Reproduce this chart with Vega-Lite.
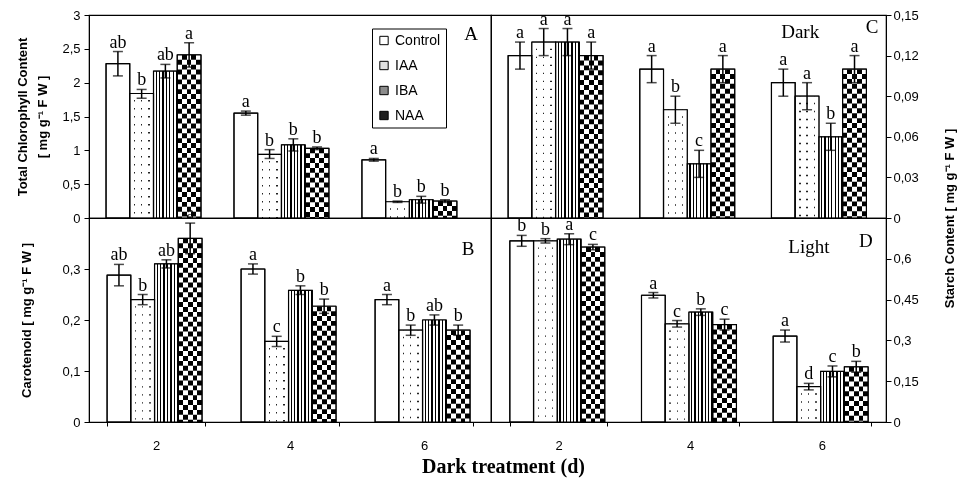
{
  "$schema": "https://vega.github.io/schema/vega-lite/v6.json",
  "padding": {"left": 15, "top": 8, "right": 0, "bottom": 0},
  "background": "white",
  "datasets": {
    "A": [
      {"day": "2", "trt": "Control", "v": 2.28, "lo": 2.10, "hi": 2.46, "lab": "ab"},
      {"day": "2", "trt": "IAA", "v": 1.84, "lo": 1.77, "hi": 1.90, "lab": "b"},
      {"day": "2", "trt": "IBA", "v": 2.17, "lo": 2.07, "hi": 2.27, "lab": "ab"},
      {"day": "2", "trt": "NAA", "v": 2.41, "lo": 2.23, "hi": 2.59, "lab": "a"},
      {"day": "4", "trt": "Control", "v": 1.55, "lo": 1.52, "hi": 1.58, "lab": "a"},
      {"day": "4", "trt": "IAA", "v": 0.94, "lo": 0.88, "hi": 1.01, "lab": "b"},
      {"day": "4", "trt": "IBA", "v": 1.08, "lo": 0.99, "hi": 1.17, "lab": "b"},
      {"day": "4", "trt": "NAA", "v": 1.03, "lo": 1.01, "hi": 1.05, "lab": "b"},
      {"day": "6", "trt": "Control", "v": 0.86, "lo": 0.84, "hi": 0.88, "lab": "a"},
      {"day": "6", "trt": "IAA", "v": 0.24, "lo": 0.23, "hi": 0.25, "lab": "b"},
      {"day": "6", "trt": "IBA", "v": 0.27, "lo": 0.22, "hi": 0.32, "lab": "b"},
      {"day": "6", "trt": "NAA", "v": 0.25, "lo": 0.23, "hi": 0.27, "lab": "b"}
    ],
    "B": [
      {"day": "2", "trt": "Control", "v": 0.288, "lo": 0.267, "hi": 0.309, "lab": "ab"},
      {"day": "2", "trt": "IAA", "v": 0.24, "lo": 0.23, "hi": 0.25, "lab": "b"},
      {"day": "2", "trt": "IBA", "v": 0.31, "lo": 0.302, "hi": 0.318, "lab": "ab"},
      {"day": "2", "trt": "NAA", "v": 0.36, "lo": 0.33, "hi": 0.39, "lab": "a"},
      {"day": "4", "trt": "Control", "v": 0.30, "lo": 0.29, "hi": 0.31, "lab": "a"},
      {"day": "4", "trt": "IAA", "v": 0.158, "lo": 0.148, "hi": 0.168, "lab": "c"},
      {"day": "4", "trt": "IBA", "v": 0.258, "lo": 0.25, "hi": 0.267, "lab": "b"},
      {"day": "4", "trt": "NAA", "v": 0.227, "lo": 0.213, "hi": 0.241, "lab": "b"},
      {"day": "6", "trt": "Control", "v": 0.24, "lo": 0.23, "hi": 0.25, "lab": "a"},
      {"day": "6", "trt": "IAA", "v": 0.18, "lo": 0.17, "hi": 0.19, "lab": "b"},
      {"day": "6", "trt": "IBA", "v": 0.20, "lo": 0.19, "hi": 0.21, "lab": "ab"},
      {"day": "6", "trt": "NAA", "v": 0.18, "lo": 0.17, "hi": 0.19, "lab": "b"}
    ],
    "C": [
      {"day": "2", "trt": "Control", "v": 0.12, "lo": 0.11, "hi": 0.13, "lab": "a"},
      {"day": "2", "trt": "IAA", "v": 0.13, "lo": 0.12, "hi": 0.14, "lab": "a"},
      {"day": "2", "trt": "IBA", "v": 0.13, "lo": 0.12, "hi": 0.14, "lab": "a"},
      {"day": "2", "trt": "NAA", "v": 0.12, "lo": 0.11, "hi": 0.13, "lab": "a"},
      {"day": "4", "trt": "Control", "v": 0.11, "lo": 0.10, "hi": 0.12, "lab": "a"},
      {"day": "4", "trt": "IAA", "v": 0.08, "lo": 0.07, "hi": 0.09, "lab": "b"},
      {"day": "4", "trt": "IBA", "v": 0.04, "lo": 0.03, "hi": 0.05, "lab": "c"},
      {"day": "4", "trt": "NAA", "v": 0.11, "lo": 0.10, "hi": 0.12, "lab": "a"},
      {"day": "6", "trt": "Control", "v": 0.10, "lo": 0.09, "hi": 0.11, "lab": "a"},
      {"day": "6", "trt": "IAA", "v": 0.09, "lo": 0.08, "hi": 0.10, "lab": "a"},
      {"day": "6", "trt": "IBA", "v": 0.06, "lo": 0.05, "hi": 0.07, "lab": "b"},
      {"day": "6", "trt": "NAA", "v": 0.11, "lo": 0.10, "hi": 0.12, "lab": "a"}
    ],
    "D": [
      {"day": "2", "trt": "Control", "v": 0.666, "lo": 0.646, "hi": 0.686, "lab": "b"},
      {"day": "2", "trt": "IAA", "v": 0.666, "lo": 0.658, "hi": 0.674, "lab": "b"},
      {"day": "2", "trt": "IBA", "v": 0.672, "lo": 0.652, "hi": 0.692, "lab": "a"},
      {"day": "2", "trt": "NAA", "v": 0.643, "lo": 0.633, "hi": 0.653, "lab": "c"},
      {"day": "4", "trt": "Control", "v": 0.466, "lo": 0.456, "hi": 0.476, "lab": "a"},
      {"day": "4", "trt": "IAA", "v": 0.361, "lo": 0.349, "hi": 0.373, "lab": "c"},
      {"day": "4", "trt": "IBA", "v": 0.404, "lo": 0.392, "hi": 0.416, "lab": "b"},
      {"day": "4", "trt": "NAA", "v": 0.358, "lo": 0.338, "hi": 0.378, "lab": "c"},
      {"day": "6", "trt": "Control", "v": 0.316, "lo": 0.294, "hi": 0.338, "lab": "a"},
      {"day": "6", "trt": "IAA", "v": 0.13, "lo": 0.118, "hi": 0.142, "lab": "d"},
      {"day": "6", "trt": "IBA", "v": 0.186, "lo": 0.166, "hi": 0.206, "lab": "c"},
      {"day": "6", "trt": "NAA", "v": 0.203, "lo": 0.183, "hi": 0.223, "lab": "b"}
    ]
  },
  "config": {
    "view": {"stroke": "black", "strokeWidth": 1.2},
    "axis": {"labelFont": "Liberation Sans", "labelFontSize": 13, "labelColor": "black", "tickColor": "black", "tickSize": 5, "domainColor": "black", "grid": false, "titleFont": "Liberation Sans", "titleFontSize": 13, "titleFontWeight": "bold", "titleColor": "black", "labelPadding": 4, "labelOverlap": false}
  },
  "concat": [
    {
      "width": 402, "height": 203,
      "data": {"name": "A"},
      "encoding": {"x": {"field": "day", "type": "nominal", "axis": null, "scale": {"paddingInner": 0.258, "paddingOuter": 0.2, "align": 0.333}}},
      "layer": [
        {"mark": {"type": "bar", "stroke": "black", "strokeWidth": 1},
         "encoding": {
           "xOffset": {"field": "trt", "type": "nominal", "scale": {"domain": ["Control", "IAA", "IBA", "NAA"], "paddingInner": 0, "paddingOuter": 0}},
           "y": {"field": "v", "type": "quantitative", "scale": {"domain": [0, 3], "nice": false},
                 "axis": {"values": [0, 0.5, 1, 1.5, 2, 2.5, 3], "tickCount": 20, "labelOverlap": false, "labelExpr": "replace(format(datum.value, '~g'), '.', ',')", "title": ["Total Chlorophyll Content", "[ mg g⁻¹ F W ]"], "titleX": -67, "titleBaseline": "middle", "titleLineHeight": 20}},
           "fill": {"field": "trt", "type": "nominal", "scale": {"domain": ["Control", "IAA", "IBA", "NAA"], "range": ["#ffffff", "#e2e2e2", "#8c8c8c", "#1e1e1e"]},
                    "legend": {"orient": "none", "legendX": 283, "legendY": 13.5, "title": null, "strokeColor": "black", "fillColor": "white", "padding": 5, "symbolType": "square", "symbolSize": 70, "symbolStrokeColor": "black", "symbolStrokeWidth": 1, "labelFont": "Liberation Sans", "labelFontSize": 14, "labelColor": "black", "rowPadding": 11, "labelOffset": 4}}
         }},
        {"transform": [{"filter": "datum.trt === 'IAA'"}],
         "mark": {"type": "bar", "fill": {"gradient": "linear", "x1": 0, "y1": 0, "x2": 1, "y2": 0, "stops": [{"offset": 0, "color": "white"}, {"offset": 0.17, "color": "white"}, {"offset": 0.17, "color": "#222"}, {"offset": 0.225, "color": "#222"}, {"offset": 0.225, "color": "white"}, {"offset": 0.475, "color": "white"}, {"offset": 0.475, "color": "#222"}, {"offset": 0.53, "color": "#222"}, {"offset": 0.53, "color": "white"}, {"offset": 0.78, "color": "white"}, {"offset": 0.78, "color": "#222"}, {"offset": 0.835, "color": "#222"}, {"offset": 0.835, "color": "white"}, {"offset": 1, "color": "white"}]}},
         "encoding": {"xOffset": {"field": "trt", "type": "nominal", "scale": {"domain": ["Control", "IAA", "IBA", "NAA"], "paddingInner": 0, "paddingOuter": 0}}, "y": {"field": "v", "type": "quantitative"}}},
        {"transform": [{"filter": "datum.trt === 'IAA'"}],
         "mark": {"type": "rule", "stroke": "white", "strokeWidth": 22, "strokeDash": [6.6, 1.4]},
         "encoding": {"xOffset": {"field": "trt", "type": "nominal", "scale": {"domain": ["Control", "IAA", "IBA", "NAA"], "paddingInner": 0, "paddingOuter": 0}}, "y": {"field": "v", "type": "quantitative"}, "y2": {"datum": 0}}},
        {"transform": [{"filter": "datum.trt === 'IBA'"}],
         "mark": {"type": "bar", "fill": {"gradient": "linear", "x1": 0, "y1": 0, "x2": 1, "y2": 0, "stops": [{"offset": 0, "color": "white"}, {"offset": 0.088, "color": "white"}, {"offset": 0.088, "color": "black"}, {"offset": 0.1429, "color": "black"}, {"offset": 0.1429, "color": "white"}, {"offset": 0.2309, "color": "white"}, {"offset": 0.2309, "color": "black"}, {"offset": 0.2857, "color": "black"}, {"offset": 0.2857, "color": "white"}, {"offset": 0.3737, "color": "white"}, {"offset": 0.3737, "color": "black"}, {"offset": 0.4286, "color": "black"}, {"offset": 0.4286, "color": "white"}, {"offset": 0.5166, "color": "white"}, {"offset": 0.5166, "color": "black"}, {"offset": 0.5714, "color": "black"}, {"offset": 0.5714, "color": "white"}, {"offset": 0.6594, "color": "white"}, {"offset": 0.6594, "color": "black"}, {"offset": 0.7143, "color": "black"}, {"offset": 0.7143, "color": "white"}, {"offset": 0.8023, "color": "white"}, {"offset": 0.8023, "color": "black"}, {"offset": 0.8571, "color": "black"}, {"offset": 0.8571, "color": "white"}, {"offset": 0.9451, "color": "white"}, {"offset": 0.9451, "color": "black"}, {"offset": 1, "color": "black"}]}},
         "encoding": {"xOffset": {"field": "trt", "type": "nominal", "scale": {"domain": ["Control", "IAA", "IBA", "NAA"], "paddingInner": 0, "paddingOuter": 0}}, "y": {"field": "v", "type": "quantitative"}}},
        {"transform": [{"filter": "datum.trt === 'NAA'"}],
         "mark": {"type": "bar", "fill": {"gradient": "linear", "x1": 0, "y1": 0, "x2": 1, "y2": 0, "stops": [{"offset": 0, "color": "black"}, {"offset": 0.2, "color": "black"}, {"offset": 0.2, "color": "white"}, {"offset": 0.4, "color": "white"}, {"offset": 0.4, "color": "black"}, {"offset": 0.6, "color": "black"}, {"offset": 0.6, "color": "white"}, {"offset": 0.8, "color": "white"}, {"offset": 0.8, "color": "black"}, {"offset": 1, "color": "black"}]}},
         "encoding": {"xOffset": {"field": "trt", "type": "nominal", "scale": {"domain": ["Control", "IAA", "IBA", "NAA"], "paddingInner": 0, "paddingOuter": 0}}, "y": {"field": "v", "type": "quantitative"}}},
        {"transform": [{"filter": "datum.trt === 'NAA'"}],
         "mark": {"type": "rule", "stroke": "white", "strokeWidth": 23, "strokeDash": [4.9, 4.9], "blend": "difference"},
         "encoding": {"xOffset": {"field": "trt", "type": "nominal", "scale": {"domain": ["Control", "IAA", "IBA", "NAA"], "paddingInner": 0, "paddingOuter": 0}}, "y": {"field": "v", "type": "quantitative"}, "y2": {"datum": 0}}},
        {"mark": {"type": "bar", "fillOpacity": 0, "stroke": "black", "strokeWidth": 1.2},
         "encoding": {"xOffset": {"field": "trt", "type": "nominal", "scale": {"domain": ["Control", "IAA", "IBA", "NAA"], "paddingInner": 0, "paddingOuter": 0}}, "y": {"field": "v", "type": "quantitative"}}},
        {"mark": {"type": "rule", "color": "black", "strokeWidth": 1.5},
         "encoding": {"xOffset": {"field": "trt", "type": "nominal", "scale": {"domain": ["Control", "IAA", "IBA", "NAA"], "paddingInner": 0, "paddingOuter": 0}}, "y": {"field": "lo", "type": "quantitative"}, "y2": {"field": "hi"}}},
        {"mark": {"type": "tick", "orient": "horizontal", "size": 10, "thickness": 1.5, "color": "black"},
         "encoding": {"xOffset": {"field": "trt", "type": "nominal", "scale": {"domain": ["Control", "IAA", "IBA", "NAA"], "paddingInner": 0, "paddingOuter": 0}}, "y": {"field": "lo", "type": "quantitative"}}},
        {"mark": {"type": "tick", "orient": "horizontal", "size": 10, "thickness": 1.5, "color": "black"},
         "encoding": {"xOffset": {"field": "trt", "type": "nominal", "scale": {"domain": ["Control", "IAA", "IBA", "NAA"], "paddingInner": 0, "paddingOuter": 0}}, "y": {"field": "hi", "type": "quantitative"}}},
        {"mark": {"type": "text", "font": "Liberation Serif", "fontSize": 18, "baseline": "alphabetic", "dy": -4, "color": "black"},
         "encoding": {"xOffset": {"field": "trt", "type": "nominal", "scale": {"domain": ["Control", "IAA", "IBA", "NAA"], "paddingInner": 0, "paddingOuter": 0}}, "y": {"field": "hi", "type": "quantitative"}, "text": {"field": "lab"}}},
        {"data": {"values": [{"t": "A"}]},
         "mark": {"type": "text", "font": "Liberation Serif", "fontSize": 19, "baseline": "middle", "dx": 61.6, "color": "black"},
         "encoding": {"x": {"datum": "6", "axis": null}, "y": {"datum": 2.72}, "text": {"field": "t"}}}
      ]
    },
    {
      "width": 395, "height": 203,
      "data": {"name": "C"},
      "encoding": {"x": {"field": "day", "type": "nominal", "axis": null, "scale": {"paddingInner": 0.26, "paddingOuter": 0.13}}},
      "layer": [
        {"mark": {"type": "bar", "stroke": "black", "strokeWidth": 1, "fill": "white"},
         "encoding": {
           "xOffset": {"field": "trt", "type": "nominal", "scale": {"domain": ["Control", "IAA", "IBA", "NAA"], "paddingInner": 0, "paddingOuter": 0}},
           "y": {"field": "v", "type": "quantitative", "scale": {"domain": [0, 0.15], "nice": false},
                 "axis": {"orient": "right", "values": [0, 0.03, 0.06, 0.09, 0.12, 0.15], "tickCount": 20, "labelOverlap": false, "labelExpr": "replace(format(datum.value, '~g'), '.', ',')", "title": null, "labelPadding": 2}}
         }},
        {"transform": [{"filter": "datum.trt === 'IAA'"}],
         "mark": {"type": "bar", "fill": {"gradient": "linear", "x1": 0, "y1": 0, "x2": 1, "y2": 0, "stops": [{"offset": 0, "color": "white"}, {"offset": 0.17, "color": "white"}, {"offset": 0.17, "color": "#222"}, {"offset": 0.225, "color": "#222"}, {"offset": 0.225, "color": "white"}, {"offset": 0.475, "color": "white"}, {"offset": 0.475, "color": "#222"}, {"offset": 0.53, "color": "#222"}, {"offset": 0.53, "color": "white"}, {"offset": 0.78, "color": "white"}, {"offset": 0.78, "color": "#222"}, {"offset": 0.835, "color": "#222"}, {"offset": 0.835, "color": "white"}, {"offset": 1, "color": "white"}]}},
         "encoding": {"xOffset": {"field": "trt", "type": "nominal", "scale": {"domain": ["Control", "IAA", "IBA", "NAA"], "paddingInner": 0, "paddingOuter": 0}}, "y": {"field": "v", "type": "quantitative"}}},
        {"transform": [{"filter": "datum.trt === 'IAA'"}],
         "mark": {"type": "rule", "stroke": "white", "strokeWidth": 22, "strokeDash": [6.6, 1.4]},
         "encoding": {"xOffset": {"field": "trt", "type": "nominal", "scale": {"domain": ["Control", "IAA", "IBA", "NAA"], "paddingInner": 0, "paddingOuter": 0}}, "y": {"field": "v", "type": "quantitative"}, "y2": {"datum": 0}}},
        {"transform": [{"filter": "datum.trt === 'IBA'"}],
         "mark": {"type": "bar", "fill": {"gradient": "linear", "x1": 0, "y1": 0, "x2": 1, "y2": 0, "stops": [{"offset": 0, "color": "white"}, {"offset": 0.088, "color": "white"}, {"offset": 0.088, "color": "black"}, {"offset": 0.1429, "color": "black"}, {"offset": 0.1429, "color": "white"}, {"offset": 0.2309, "color": "white"}, {"offset": 0.2309, "color": "black"}, {"offset": 0.2857, "color": "black"}, {"offset": 0.2857, "color": "white"}, {"offset": 0.3737, "color": "white"}, {"offset": 0.3737, "color": "black"}, {"offset": 0.4286, "color": "black"}, {"offset": 0.4286, "color": "white"}, {"offset": 0.5166, "color": "white"}, {"offset": 0.5166, "color": "black"}, {"offset": 0.5714, "color": "black"}, {"offset": 0.5714, "color": "white"}, {"offset": 0.6594, "color": "white"}, {"offset": 0.6594, "color": "black"}, {"offset": 0.7143, "color": "black"}, {"offset": 0.7143, "color": "white"}, {"offset": 0.8023, "color": "white"}, {"offset": 0.8023, "color": "black"}, {"offset": 0.8571, "color": "black"}, {"offset": 0.8571, "color": "white"}, {"offset": 0.9451, "color": "white"}, {"offset": 0.9451, "color": "black"}, {"offset": 1, "color": "black"}]}},
         "encoding": {"xOffset": {"field": "trt", "type": "nominal", "scale": {"domain": ["Control", "IAA", "IBA", "NAA"], "paddingInner": 0, "paddingOuter": 0}}, "y": {"field": "v", "type": "quantitative"}}},
        {"transform": [{"filter": "datum.trt === 'NAA'"}],
         "mark": {"type": "bar", "fill": {"gradient": "linear", "x1": 0, "y1": 0, "x2": 1, "y2": 0, "stops": [{"offset": 0, "color": "black"}, {"offset": 0.2, "color": "black"}, {"offset": 0.2, "color": "white"}, {"offset": 0.4, "color": "white"}, {"offset": 0.4, "color": "black"}, {"offset": 0.6, "color": "black"}, {"offset": 0.6, "color": "white"}, {"offset": 0.8, "color": "white"}, {"offset": 0.8, "color": "black"}, {"offset": 1, "color": "black"}]}},
         "encoding": {"xOffset": {"field": "trt", "type": "nominal", "scale": {"domain": ["Control", "IAA", "IBA", "NAA"], "paddingInner": 0, "paddingOuter": 0}}, "y": {"field": "v", "type": "quantitative"}}},
        {"transform": [{"filter": "datum.trt === 'NAA'"}],
         "mark": {"type": "rule", "stroke": "white", "strokeWidth": 23, "strokeDash": [4.9, 4.9], "blend": "difference"},
         "encoding": {"xOffset": {"field": "trt", "type": "nominal", "scale": {"domain": ["Control", "IAA", "IBA", "NAA"], "paddingInner": 0, "paddingOuter": 0}}, "y": {"field": "v", "type": "quantitative"}, "y2": {"datum": 0}}},
        {"mark": {"type": "bar", "fillOpacity": 0, "stroke": "black", "strokeWidth": 1.2},
         "encoding": {"xOffset": {"field": "trt", "type": "nominal", "scale": {"domain": ["Control", "IAA", "IBA", "NAA"], "paddingInner": 0, "paddingOuter": 0}}, "y": {"field": "v", "type": "quantitative"}}},
        {"mark": {"type": "rule", "color": "black", "strokeWidth": 1.5},
         "encoding": {"xOffset": {"field": "trt", "type": "nominal", "scale": {"domain": ["Control", "IAA", "IBA", "NAA"], "paddingInner": 0, "paddingOuter": 0}}, "y": {"field": "lo", "type": "quantitative"}, "y2": {"field": "hi"}}},
        {"mark": {"type": "tick", "orient": "horizontal", "size": 10, "thickness": 1.5, "color": "black"},
         "encoding": {"xOffset": {"field": "trt", "type": "nominal", "scale": {"domain": ["Control", "IAA", "IBA", "NAA"], "paddingInner": 0, "paddingOuter": 0}}, "y": {"field": "lo", "type": "quantitative"}}},
        {"mark": {"type": "tick", "orient": "horizontal", "size": 10, "thickness": 1.5, "color": "black"},
         "encoding": {"xOffset": {"field": "trt", "type": "nominal", "scale": {"domain": ["Control", "IAA", "IBA", "NAA"], "paddingInner": 0, "paddingOuter": 0}}, "y": {"field": "hi", "type": "quantitative"}}},
        {"mark": {"type": "text", "font": "Liberation Serif", "fontSize": 18, "baseline": "alphabetic", "dy": -4, "color": "black"},
         "encoding": {"xOffset": {"field": "trt", "type": "nominal", "scale": {"domain": ["Control", "IAA", "IBA", "NAA"], "paddingInner": 0, "paddingOuter": 0}}, "y": {"field": "hi", "type": "quantitative"}, "text": {"field": "lab"}}},
        {"data": {"values": [{"t": "C"}]},
         "mark": {"type": "text", "font": "Liberation Serif", "fontSize": 19, "baseline": "middle", "dx": 52, "color": "black"},
         "encoding": {"x": {"datum": "6", "axis": null}, "y": {"datum": 0.1415}, "text": {"field": "t"}}},
        {"data": {"values": [{"t": "Dark"}]},
         "mark": {"type": "text", "font": "Liberation Serif", "fontSize": 19, "baseline": "middle", "dx": -20, "color": "black"},
         "encoding": {"x": {"datum": "6", "axis": null}, "y": {"datum": 0.1374}, "text": {"field": "t"}}}
      ]
    },
    {
      "width": 402, "height": 204,
      "data": {"name": "B"},
      "encoding": {"x": {"field": "day", "type": "nominal", "scale": {"paddingInner": 0.27, "paddingOuter": 0.135},
                         "axis": {"title": "Dark treatment (d)", "titleFont": "Liberation Serif", "titleFontSize": 20, "titleFontWeight": "bold", "titleX": 414, "titleY": 50.5, "titleBaseline": "alphabetic", "titleAlign": "center", "labelAngle": 0, "tickBand": "extent", "tickSize": 4, "labelPadding": 13}}},
      "layer": [
        {"mark": {"type": "bar", "stroke": "black", "strokeWidth": 1, "fill": "white"},
         "encoding": {
           "xOffset": {"field": "trt", "type": "nominal", "scale": {"domain": ["Control", "IAA", "IBA", "NAA"], "paddingInner": 0, "paddingOuter": 0}},
           "y": {"field": "v", "type": "quantitative", "scale": {"domain": [0, 0.4], "nice": false},
                 "axis": {"values": [0, 0.1, 0.2, 0.3], "tickCount": 20, "labelOverlap": false, "labelExpr": "replace(format(datum.value, '~g'), '.', ',')", "title": "Carotenoid [ mg g⁻¹ F W ]", "titleX": -63, "titleBaseline": "middle"}}
         }},
        {"transform": [{"filter": "datum.trt === 'IAA'"}],
         "mark": {"type": "bar", "fill": {"gradient": "linear", "x1": 0, "y1": 0, "x2": 1, "y2": 0, "stops": [{"offset": 0, "color": "white"}, {"offset": 0.17, "color": "white"}, {"offset": 0.17, "color": "#222"}, {"offset": 0.225, "color": "#222"}, {"offset": 0.225, "color": "white"}, {"offset": 0.475, "color": "white"}, {"offset": 0.475, "color": "#222"}, {"offset": 0.53, "color": "#222"}, {"offset": 0.53, "color": "white"}, {"offset": 0.78, "color": "white"}, {"offset": 0.78, "color": "#222"}, {"offset": 0.835, "color": "#222"}, {"offset": 0.835, "color": "white"}, {"offset": 1, "color": "white"}]}},
         "encoding": {"xOffset": {"field": "trt", "type": "nominal", "scale": {"domain": ["Control", "IAA", "IBA", "NAA"], "paddingInner": 0, "paddingOuter": 0}}, "y": {"field": "v", "type": "quantitative"}}},
        {"transform": [{"filter": "datum.trt === 'IAA'"}],
         "mark": {"type": "rule", "stroke": "white", "strokeWidth": 22, "strokeDash": [6.6, 1.4]},
         "encoding": {"xOffset": {"field": "trt", "type": "nominal", "scale": {"domain": ["Control", "IAA", "IBA", "NAA"], "paddingInner": 0, "paddingOuter": 0}}, "y": {"field": "v", "type": "quantitative"}, "y2": {"datum": 0}}},
        {"transform": [{"filter": "datum.trt === 'IBA'"}],
         "mark": {"type": "bar", "fill": {"gradient": "linear", "x1": 0, "y1": 0, "x2": 1, "y2": 0, "stops": [{"offset": 0, "color": "white"}, {"offset": 0.088, "color": "white"}, {"offset": 0.088, "color": "black"}, {"offset": 0.1429, "color": "black"}, {"offset": 0.1429, "color": "white"}, {"offset": 0.2309, "color": "white"}, {"offset": 0.2309, "color": "black"}, {"offset": 0.2857, "color": "black"}, {"offset": 0.2857, "color": "white"}, {"offset": 0.3737, "color": "white"}, {"offset": 0.3737, "color": "black"}, {"offset": 0.4286, "color": "black"}, {"offset": 0.4286, "color": "white"}, {"offset": 0.5166, "color": "white"}, {"offset": 0.5166, "color": "black"}, {"offset": 0.5714, "color": "black"}, {"offset": 0.5714, "color": "white"}, {"offset": 0.6594, "color": "white"}, {"offset": 0.6594, "color": "black"}, {"offset": 0.7143, "color": "black"}, {"offset": 0.7143, "color": "white"}, {"offset": 0.8023, "color": "white"}, {"offset": 0.8023, "color": "black"}, {"offset": 0.8571, "color": "black"}, {"offset": 0.8571, "color": "white"}, {"offset": 0.9451, "color": "white"}, {"offset": 0.9451, "color": "black"}, {"offset": 1, "color": "black"}]}},
         "encoding": {"xOffset": {"field": "trt", "type": "nominal", "scale": {"domain": ["Control", "IAA", "IBA", "NAA"], "paddingInner": 0, "paddingOuter": 0}}, "y": {"field": "v", "type": "quantitative"}}},
        {"transform": [{"filter": "datum.trt === 'NAA'"}],
         "mark": {"type": "bar", "fill": {"gradient": "linear", "x1": 0, "y1": 0, "x2": 1, "y2": 0, "stops": [{"offset": 0, "color": "black"}, {"offset": 0.2, "color": "black"}, {"offset": 0.2, "color": "white"}, {"offset": 0.4, "color": "white"}, {"offset": 0.4, "color": "black"}, {"offset": 0.6, "color": "black"}, {"offset": 0.6, "color": "white"}, {"offset": 0.8, "color": "white"}, {"offset": 0.8, "color": "black"}, {"offset": 1, "color": "black"}]}},
         "encoding": {"xOffset": {"field": "trt", "type": "nominal", "scale": {"domain": ["Control", "IAA", "IBA", "NAA"], "paddingInner": 0, "paddingOuter": 0}}, "y": {"field": "v", "type": "quantitative"}}},
        {"transform": [{"filter": "datum.trt === 'NAA'"}],
         "mark": {"type": "rule", "stroke": "white", "strokeWidth": 23, "strokeDash": [4.9, 4.9], "blend": "difference"},
         "encoding": {"xOffset": {"field": "trt", "type": "nominal", "scale": {"domain": ["Control", "IAA", "IBA", "NAA"], "paddingInner": 0, "paddingOuter": 0}}, "y": {"field": "v", "type": "quantitative"}, "y2": {"datum": 0}}},
        {"mark": {"type": "bar", "fillOpacity": 0, "stroke": "black", "strokeWidth": 1.2},
         "encoding": {"xOffset": {"field": "trt", "type": "nominal", "scale": {"domain": ["Control", "IAA", "IBA", "NAA"], "paddingInner": 0, "paddingOuter": 0}}, "y": {"field": "v", "type": "quantitative"}}},
        {"mark": {"type": "rule", "color": "black", "strokeWidth": 1.5},
         "encoding": {"xOffset": {"field": "trt", "type": "nominal", "scale": {"domain": ["Control", "IAA", "IBA", "NAA"], "paddingInner": 0, "paddingOuter": 0}}, "y": {"field": "lo", "type": "quantitative"}, "y2": {"field": "hi"}}},
        {"mark": {"type": "tick", "orient": "horizontal", "size": 10, "thickness": 1.5, "color": "black"},
         "encoding": {"xOffset": {"field": "trt", "type": "nominal", "scale": {"domain": ["Control", "IAA", "IBA", "NAA"], "paddingInner": 0, "paddingOuter": 0}}, "y": {"field": "lo", "type": "quantitative"}}},
        {"mark": {"type": "tick", "orient": "horizontal", "size": 10, "thickness": 1.5, "color": "black"},
         "encoding": {"xOffset": {"field": "trt", "type": "nominal", "scale": {"domain": ["Control", "IAA", "IBA", "NAA"], "paddingInner": 0, "paddingOuter": 0}}, "y": {"field": "hi", "type": "quantitative"}}},
        {"mark": {"type": "text", "font": "Liberation Serif", "fontSize": 18, "baseline": "alphabetic", "dy": -4, "color": "black"},
         "encoding": {"xOffset": {"field": "trt", "type": "nominal", "scale": {"domain": ["Control", "IAA", "IBA", "NAA"], "paddingInner": 0, "paddingOuter": 0}}, "y": {"field": "hi", "type": "quantitative"}, "text": {"field": "lab"}}},
        {"data": {"values": [{"t": "B"}]},
         "mark": {"type": "text", "font": "Liberation Serif", "fontSize": 19, "baseline": "middle", "dx": 44, "color": "black"},
         "encoding": {"x": {"datum": "6"}, "y": {"datum": 0.34}, "text": {"field": "t"}}}
      ]
    },
    {
      "width": 395, "height": 204,
      "data": {"name": "D"},
      "encoding": {"x": {"field": "day", "type": "nominal", "scale": {"paddingInner": 0.26, "paddingOuter": 0.13, "align": 0.55},
                         "axis": {"title": null, "labelAngle": 0, "tickBand": "extent", "tickSize": 4, "labelPadding": 13}}},
      "layer": [
        {"mark": {"type": "bar", "stroke": "black", "strokeWidth": 1, "fill": "white"},
         "encoding": {
           "xOffset": {"field": "trt", "type": "nominal", "scale": {"domain": ["Control", "IAA", "IBA", "NAA"], "paddingInner": 0, "paddingOuter": 0}},
           "y": {"field": "v", "type": "quantitative", "scale": {"domain": [0, 0.75], "nice": false},
                 "axis": {"orient": "right", "values": [0, 0.15, 0.3, 0.45, 0.6], "tickCount": 20, "labelOverlap": false, "labelExpr": "replace(format(datum.value, '~g'), '.', ',')", "title": "Starch Content [ mg g⁻¹ F W ]", "titleAngle": 270, "titleX": 63, "titleY": 0, "titleBaseline": "middle", "titleAlign": "center", "labelPadding": 2}}
         }},
        {"transform": [{"filter": "datum.trt === 'IAA'"}],
         "mark": {"type": "bar", "fill": {"gradient": "linear", "x1": 0, "y1": 0, "x2": 1, "y2": 0, "stops": [{"offset": 0, "color": "white"}, {"offset": 0.17, "color": "white"}, {"offset": 0.17, "color": "#222"}, {"offset": 0.225, "color": "#222"}, {"offset": 0.225, "color": "white"}, {"offset": 0.475, "color": "white"}, {"offset": 0.475, "color": "#222"}, {"offset": 0.53, "color": "#222"}, {"offset": 0.53, "color": "white"}, {"offset": 0.78, "color": "white"}, {"offset": 0.78, "color": "#222"}, {"offset": 0.835, "color": "#222"}, {"offset": 0.835, "color": "white"}, {"offset": 1, "color": "white"}]}},
         "encoding": {"xOffset": {"field": "trt", "type": "nominal", "scale": {"domain": ["Control", "IAA", "IBA", "NAA"], "paddingInner": 0, "paddingOuter": 0}}, "y": {"field": "v", "type": "quantitative"}}},
        {"transform": [{"filter": "datum.trt === 'IAA'"}],
         "mark": {"type": "rule", "stroke": "white", "strokeWidth": 22, "strokeDash": [6.6, 1.4]},
         "encoding": {"xOffset": {"field": "trt", "type": "nominal", "scale": {"domain": ["Control", "IAA", "IBA", "NAA"], "paddingInner": 0, "paddingOuter": 0}}, "y": {"field": "v", "type": "quantitative"}, "y2": {"datum": 0}}},
        {"transform": [{"filter": "datum.trt === 'IBA'"}],
         "mark": {"type": "bar", "fill": {"gradient": "linear", "x1": 0, "y1": 0, "x2": 1, "y2": 0, "stops": [{"offset": 0, "color": "white"}, {"offset": 0.088, "color": "white"}, {"offset": 0.088, "color": "black"}, {"offset": 0.1429, "color": "black"}, {"offset": 0.1429, "color": "white"}, {"offset": 0.2309, "color": "white"}, {"offset": 0.2309, "color": "black"}, {"offset": 0.2857, "color": "black"}, {"offset": 0.2857, "color": "white"}, {"offset": 0.3737, "color": "white"}, {"offset": 0.3737, "color": "black"}, {"offset": 0.4286, "color": "black"}, {"offset": 0.4286, "color": "white"}, {"offset": 0.5166, "color": "white"}, {"offset": 0.5166, "color": "black"}, {"offset": 0.5714, "color": "black"}, {"offset": 0.5714, "color": "white"}, {"offset": 0.6594, "color": "white"}, {"offset": 0.6594, "color": "black"}, {"offset": 0.7143, "color": "black"}, {"offset": 0.7143, "color": "white"}, {"offset": 0.8023, "color": "white"}, {"offset": 0.8023, "color": "black"}, {"offset": 0.8571, "color": "black"}, {"offset": 0.8571, "color": "white"}, {"offset": 0.9451, "color": "white"}, {"offset": 0.9451, "color": "black"}, {"offset": 1, "color": "black"}]}},
         "encoding": {"xOffset": {"field": "trt", "type": "nominal", "scale": {"domain": ["Control", "IAA", "IBA", "NAA"], "paddingInner": 0, "paddingOuter": 0}}, "y": {"field": "v", "type": "quantitative"}}},
        {"transform": [{"filter": "datum.trt === 'NAA'"}],
         "mark": {"type": "bar", "fill": {"gradient": "linear", "x1": 0, "y1": 0, "x2": 1, "y2": 0, "stops": [{"offset": 0, "color": "black"}, {"offset": 0.2, "color": "black"}, {"offset": 0.2, "color": "white"}, {"offset": 0.4, "color": "white"}, {"offset": 0.4, "color": "black"}, {"offset": 0.6, "color": "black"}, {"offset": 0.6, "color": "white"}, {"offset": 0.8, "color": "white"}, {"offset": 0.8, "color": "black"}, {"offset": 1, "color": "black"}]}},
         "encoding": {"xOffset": {"field": "trt", "type": "nominal", "scale": {"domain": ["Control", "IAA", "IBA", "NAA"], "paddingInner": 0, "paddingOuter": 0}}, "y": {"field": "v", "type": "quantitative"}}},
        {"transform": [{"filter": "datum.trt === 'NAA'"}],
         "mark": {"type": "rule", "stroke": "white", "strokeWidth": 23, "strokeDash": [4.9, 4.9], "blend": "difference"},
         "encoding": {"xOffset": {"field": "trt", "type": "nominal", "scale": {"domain": ["Control", "IAA", "IBA", "NAA"], "paddingInner": 0, "paddingOuter": 0}}, "y": {"field": "v", "type": "quantitative"}, "y2": {"datum": 0}}},
        {"mark": {"type": "bar", "fillOpacity": 0, "stroke": "black", "strokeWidth": 1.2},
         "encoding": {"xOffset": {"field": "trt", "type": "nominal", "scale": {"domain": ["Control", "IAA", "IBA", "NAA"], "paddingInner": 0, "paddingOuter": 0}}, "y": {"field": "v", "type": "quantitative"}}},
        {"mark": {"type": "rule", "color": "black", "strokeWidth": 1.5},
         "encoding": {"xOffset": {"field": "trt", "type": "nominal", "scale": {"domain": ["Control", "IAA", "IBA", "NAA"], "paddingInner": 0, "paddingOuter": 0}}, "y": {"field": "lo", "type": "quantitative"}, "y2": {"field": "hi"}}},
        {"mark": {"type": "tick", "orient": "horizontal", "size": 10, "thickness": 1.5, "color": "black"},
         "encoding": {"xOffset": {"field": "trt", "type": "nominal", "scale": {"domain": ["Control", "IAA", "IBA", "NAA"], "paddingInner": 0, "paddingOuter": 0}}, "y": {"field": "lo", "type": "quantitative"}}},
        {"mark": {"type": "tick", "orient": "horizontal", "size": 10, "thickness": 1.5, "color": "black"},
         "encoding": {"xOffset": {"field": "trt", "type": "nominal", "scale": {"domain": ["Control", "IAA", "IBA", "NAA"], "paddingInner": 0, "paddingOuter": 0}}, "y": {"field": "hi", "type": "quantitative"}}},
        {"mark": {"type": "text", "font": "Liberation Serif", "fontSize": 18, "baseline": "alphabetic", "dy": -4, "color": "black"},
         "encoding": {"xOffset": {"field": "trt", "type": "nominal", "scale": {"domain": ["Control", "IAA", "IBA", "NAA"], "paddingInner": 0, "paddingOuter": 0}}, "y": {"field": "hi", "type": "quantitative"}, "text": {"field": "lab"}}},
        {"data": {"values": [{"t": "D"}]},
         "mark": {"type": "text", "font": "Liberation Serif", "fontSize": 19, "baseline": "middle", "dx": 44, "color": "black"},
         "encoding": {"x": {"datum": "6"}, "y": {"datum": 0.664}, "text": {"field": "t"}}},
        {"data": {"values": [{"t": "Light"}]},
         "mark": {"type": "text", "font": "Liberation Serif", "fontSize": 19, "baseline": "middle", "dx": -13, "color": "black"},
         "encoding": {"x": {"datum": "6"}, "y": {"datum": 0.645}, "text": {"field": "t"}}}
      ]
    }
  ],
  "columns": 2,
  "spacing": 0,
  "bounds": "flush",
  "resolve": {"scale": {"fill": "independent", "x": "independent", "y": "independent"}, "legend": {"fill": "independent"}}
}
